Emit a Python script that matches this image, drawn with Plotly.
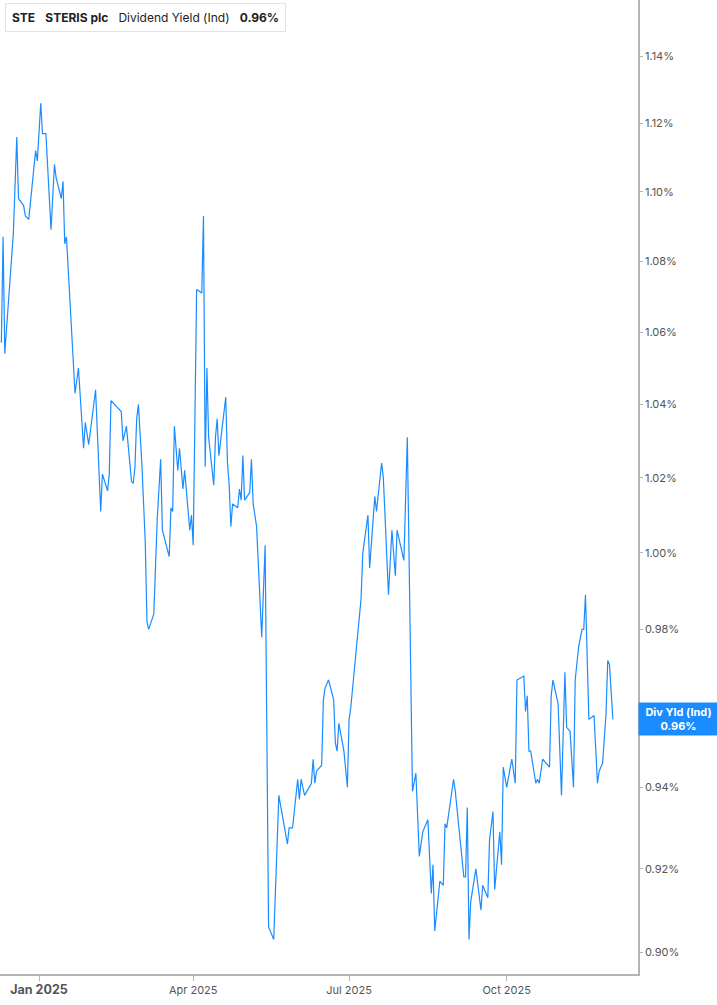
"""Dividend yield chart for STE, one year of daily values."""

import math

import plotly.graph_objects as go

TICKER = "STE"
COMPANY = "STERIS plc"
METRIC = "Dividend Yield (Ind)"
SHORT_METRIC = "Div Yld (Ind)"

dates = [
    "2024-12-10", "2024-12-11", "2024-12-12", "2024-12-17", "2024-12-19",
    "2024-12-20", "2024-12-23", "2024-12-24", "2024-12-26", "2024-12-28",
    "2024-12-30", "2024-12-31", "2025-01-02", "2025-01-03", "2025-01-05",
    "2025-01-08", "2025-01-10", "2025-01-11", "2025-01-13", "2025-01-14",
    "2025-01-15", "2025-01-16", "2025-01-17", "2025-01-22", "2025-01-24",
    "2025-01-27", "2025-01-28", "2025-01-30", "2025-02-03", "2025-02-04",
    "2025-02-06", "2025-02-07", "2025-02-10", "2025-02-11", "2025-02-12",
    "2025-02-18", "2025-02-19", "2025-02-21", "2025-02-24", "2025-02-25",
    "2025-02-26", "2025-02-27", "2025-02-28", "2025-03-02", "2025-03-04",
    "2025-03-05", "2025-03-06", "2025-03-09", "2025-03-11", "2025-03-13",
    "2025-03-14", "2025-03-18", "2025-03-19", "2025-03-20", "2025-03-21",
    "2025-03-23", "2025-03-24", "2025-03-26", "2025-03-27", "2025-03-30",
    "2025-03-31", "2025-04-01", "2025-04-03", "2025-04-06", "2025-04-07",
    "2025-04-08", "2025-04-09", "2025-04-10", "2025-04-13", "2025-04-14",
    "2025-04-15", "2025-04-16", "2025-04-20", "2025-04-21", "2025-04-22",
    "2025-04-23", "2025-04-24", "2025-04-27", "2025-04-28", "2025-04-29",
    "2025-04-30", "2025-05-01", "2025-05-04", "2025-05-05", "2025-05-06",
    "2025-05-08", "2025-05-11", "2025-05-13", "2025-05-15", "2025-05-18",
    "2025-05-21", "2025-05-26", "2025-05-27", "2025-05-29", "2025-06-01",
    "2025-06-02", "2025-06-03", "2025-06-05", "2025-06-09", "2025-06-10",
    "2025-06-11", "2025-06-12", "2025-06-15", "2025-06-16", "2025-06-17",
    "2025-06-19", "2025-06-22", "2025-06-23", "2025-06-24", "2025-06-25",
    "2025-06-28", "2025-06-30", "2025-07-01", "2025-07-02", "2025-07-05",
    "2025-07-07", "2025-07-08", "2025-07-09", "2025-07-12", "2025-07-13",
    "2025-07-16", "2025-07-17", "2025-07-20", "2025-07-21", "2025-07-24",
    "2025-07-26", "2025-07-28", "2025-07-29", "2025-08-02", "2025-08-04",
    "2025-08-07", "2025-08-09", "2025-08-11", "2025-08-13", "2025-08-16",
    "2025-08-18", "2025-08-19", "2025-08-20", "2025-08-23", "2025-08-25",
    "2025-08-26", "2025-08-27", "2025-08-31", "2025-09-01", "2025-09-06",
    "2025-09-07", "2025-09-08", "2025-09-09", "2025-09-10", "2025-09-13",
    "2025-09-16", "2025-09-17", "2025-09-20", "2025-09-21", "2025-09-23",
    "2025-09-24", "2025-09-27", "2025-09-28", "2025-09-29", "2025-10-01",
    "2025-10-04", "2025-10-06", "2025-10-07", "2025-10-11", "2025-10-12",
    "2025-10-13", "2025-10-14", "2025-10-15", "2025-10-18", "2025-10-19",
    "2025-10-20", "2025-10-22", "2025-10-24", "2025-10-26", "2025-10-27",
    "2025-10-28", "2025-10-31", "2025-11-02", "2025-11-04", "2025-11-05",
    "2025-11-07", "2025-11-09", "2025-11-10", "2025-11-12", "2025-11-14",
    "2025-11-15", "2025-11-16", "2025-11-18", "2025-11-21", "2025-11-23",
    "2025-11-24", "2025-11-26", "2025-11-28", "2025-11-29", "2025-11-30",
    "2025-12-02",
]

# dividend yield in percent
div_yield = [
    1.057, 1.087, 1.054, 1.088, 1.116,
    1.098, 1.096, 1.093, 1.092, 1.101,
    1.112, 1.109, 1.126, 1.117, 1.117,
    1.089, 1.108, 1.104, 1.100, 1.098,
    1.103, 1.085, 1.087, 1.043, 1.050,
    1.028, 1.035, 1.029, 1.044, 1.034,
    1.011, 1.021, 1.0165, 1.021, 1.041,
    1.038, 1.030, 1.034, 1.019, 1.0185,
    1.023, 1.036, 1.040, 1.024, 1.003,
    0.982, 0.980, 0.984, 1.009, 1.025,
    1.006, 0.999, 1.012, 1.011, 1.034,
    1.022, 1.028, 1.017, 1.022, 1.006,
    1.010, 1.002, 1.072, 1.071, 1.093,
    1.023, 1.050, 1.031, 1.018, 1.031,
    1.036, 1.026, 1.042, 1.024, 1.018,
    1.007, 1.013, 1.012, 1.017, 1.014,
    1.026, 1.014, 1.016, 1.025, 1.013,
    1.007, 0.978, 1.002, 0.906, 0.903,
    0.938, 0.926, 0.930, 0.930, 0.942,
    0.937, 0.942, 0.938, 0.941, 0.947,
    0.941, 0.944, 0.9455, 0.962, 0.965,
    0.967, 0.962, 0.951, 0.949, 0.956,
    0.949, 0.940, 0.957, 0.960, 0.974,
    0.983, 0.988, 1.000, 1.010, 0.996,
    1.015, 1.011, 1.024, 1.020, 0.989,
    1.006, 0.994, 1.006, 0.998, 1.031,
    0.939, 0.9435, 0.923, 0.929, 0.932,
    0.914, 0.921, 0.905, 0.917, 0.916,
    0.931, 0.930, 0.942, 0.939, 0.918,
    0.918, 0.935, 0.903, 0.912, 0.920,
    0.910, 0.916, 0.913, 0.927, 0.934,
    0.915, 0.929, 0.921, 0.945, 0.940,
    0.947, 0.941, 0.967, 0.968, 0.959,
    0.963, 0.949, 0.949, 0.941, 0.942,
    0.941, 0.947, 0.946, 0.945, 0.963,
    0.967, 0.961, 0.938, 0.969, 0.955,
    0.954, 0.940, 0.967, 0.9755, 0.980,
    0.980, 0.989, 0.957, 0.958, 0.941,
    0.944, 0.946, 0.9585, 0.972, 0.971,
    0.957,
]

x_tick_dates = ["2025-01-01", "2025-04-01", "2025-07-01", "2025-10-01"]
x_tick_labels = [
    "<span style='font-size:12.5px'><b>Jan 2025</b></span>",
    "Apr 2025",
    "Jul 2025",
    "Oct 2025",
]
y_tick_values = [0.90, 0.92, 0.94, 0.96, 0.98, 1.00, 1.02, 1.04, 1.06,
                 1.08, 1.10, 1.12, 1.14]

LINE_BLUE = "#1a8cff"
AXIS_GREY = "#b4b4b4"
TEXT_GREY = "#555555"

fig = go.Figure()
fig.add_trace(
    go.Scatter(
        x=dates,
        y=div_yield,
        mode="lines",
        line=dict(color=LINE_BLUE, width=1.2),
        hoverinfo="x+y",
    )
)

# legend-like header box in the top left corner
last_value = div_yield[-1]
fig.add_annotation(
    xref="paper",
    yref="paper",
    x=0,
    y=1,
    xanchor="left",
    yanchor="top",
    xshift=5,
    yshift=-3,
    text=(
        f"<b>{TICKER}</b>\u00a0\u00a0\u00a0<b>{COMPANY}</b>\u00a0\u00a0\u00a0"
        f"{METRIC}\u00a0\u00a0\u00a0<b>{last_value:.2f}%</b>"
    ),
    showarrow=False,
    font=dict(size=12, color="#222222"),
    align="left",
    bgcolor="white",
    bordercolor="#e3e3e3",
    borderwidth=1,
    borderpad=6,
)
fig.add_shape(
    type="rect",
    xref="paper",
    yref="paper",
    xsizemode="pixel",
    ysizemode="pixel",
    xanchor=0,
    yanchor=1,
    x0=5,
    x1=8,
    y0=-29,
    y1=-4,
    fillcolor=LINE_BLUE,
    line_width=0,
)

# current value tag on the price axis
fig.add_annotation(
    xref="paper",
    yref="y",
    x=1,
    y=math.log10(last_value),
    xanchor="left",
    yanchor="middle",
    text=f"<b>{SHORT_METRIC}</b><br><b>{last_value:.2f}%</b>",
    showarrow=False,
    font=dict(size=11, color="white"),
    align="center",
    bgcolor=LINE_BLUE,
    width=75,
    borderpad=2,
)

fig.update_xaxes(
    type="date",
    range=["2024-12-09 05:00", "2025-12-16 16:00"],
    tickvals=x_tick_dates,
    ticktext=x_tick_labels,
    ticks="outside",
    ticklen=5,
    tickcolor=AXIS_GREY,
    showline=True,
    linecolor=AXIS_GREY,
    linewidth=2,
    showgrid=False,
    zeroline=False,
    tickfont=dict(size=11, color=TEXT_GREY),
)
fig.update_yaxes(
    type="log",
    side="right",
    range=[math.log10(0.8948), math.log10(1.1571)],
    tickvals=y_tick_values,
    ticktext=[f"{v:.2f}%" for v in y_tick_values],
    ticks="outside",
    ticklen=3,
    tickcolor=AXIS_GREY,
    showline=True,
    linecolor=AXIS_GREY,
    linewidth=1.5,
    showgrid=False,
    zeroline=False,
    tickfont=dict(size=11, color=TEXT_GREY),
)
fig.update_layout(
    width=717,
    height=1005,
    margin=dict(l=0, r=79, t=0, b=31),
    plot_bgcolor="white",
    paper_bgcolor="white",
    showlegend=False,
    font=dict(family="Inter, Roboto, sans-serif"),
)

# the page's default body margin would push the figure 8px off
fig.write_html(
    "out.html",
    config={"displayModeBar": False},
    post_script="document.body.style.margin = '0px';",
)
